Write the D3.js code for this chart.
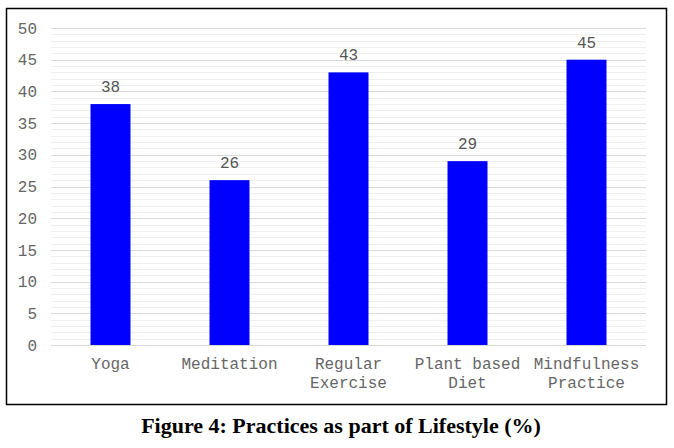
<!DOCTYPE html>
<html>
<head>
<meta charset="utf-8">
<script src="https://cdn.jsdelivr.net/npm/d3@7"></script>
<style>
  body { margin: 0; background: #fff; }
  .mono { font-family: "Liberation Mono", "Courier New", monospace; }
  .title { font-family: "Liberation Serif", "Times New Roman", serif; font-weight: bold; }
</style>
</head>
<body>
<svg id="chart" width="674" height="448"></svg>
<script>
const categories = ["Yoga", "Meditation", "Regular Exercise", "Plant based Diet", "Mindfulness Practice"];
const labelLines = [["Yoga"], ["Meditation"], ["Regular", "Exercise"], ["Plant based", "Diet"], ["Mindfulness", "Practice"]];
const values = [38, 26, 43, 29, 45];
const yTicks = [0, 5, 10, 15, 20, 25, 30, 35, 40, 45, 50];
const minorTicks = d3.range(0, 51, 1);
const title = "Figure 4: Practices as part of Lifestyle (%)";

const svg = d3.select("#chart");
const margin = { left: 51, right: 646, top: 28, bottom: 345 };

// outer frame
svg.append("rect")
  .attr("x", 6.5).attr("y", 8.5)
  .attr("width", 660).attr("height", 396)
  .attr("fill", "none").attr("stroke", "#000").attr("stroke-width", 1.5);

const x = d3.scaleBand()
  .domain(categories)
  .range([margin.left, margin.right])
  .paddingInner(0.664)
  .paddingOuter(0.332);

const y = d3.scaleLinear()
  .domain([0, 50])
  .range([margin.bottom, margin.top]);

// minor grid
svg.append("g").selectAll("line")
  .data(minorTicks.filter(d => d % 5 !== 0))
  .join("line")
  .attr("x1", margin.left).attr("x2", margin.right)
  .attr("y1", d => Math.round(y(d)) + 0.5).attr("y2", d => Math.round(y(d)) + 0.5)
  .attr("stroke", "#efefef").attr("stroke-width", 1);

// major grid
svg.append("g").selectAll("line")
  .data(yTicks)
  .join("line")
  .attr("x1", margin.left).attr("x2", margin.right)
  .attr("y1", d => Math.round(y(d)) + 0.5).attr("y2", d => Math.round(y(d)) + 0.5)
  .attr("stroke", "#d9d9d9").attr("stroke-width", 1);

// y tick labels
svg.append("g").selectAll("text")
  .data(yTicks)
  .join("text")
  .attr("class", "mono")
  .attr("x", 37)
  .attr("y", d => y(d))
  .attr("dy", "0.35em")
  .attr("text-anchor", "end")
  .attr("font-size", 16)
  .attr("fill", "#666")
  .text(d => d);

// bars
svg.append("g").selectAll("rect")
  .data(values)
  .join("rect")
  .attr("x", (d, i) => x(categories[i]))
  .attr("width", x.bandwidth())
  .attr("y", d => y(d))
  .attr("height", d => y(0) - y(d))
  .attr("fill", "#0000ff");

// data labels
svg.append("g").selectAll("text")
  .data(values)
  .join("text")
  .attr("class", "mono")
  .attr("x", (d, i) => x(categories[i]) + x.bandwidth() / 2)
  .attr("y", d => y(d) - 12)
  .attr("text-anchor", "middle")
  .attr("font-size", 16)
  .attr("fill", "#555")
  .text(d => d);

// category labels
const cat = svg.append("g").selectAll("text")
  .data(labelLines)
  .join("text")
  .attr("class", "mono")
  .attr("x", (d, i) => x(categories[i]) + x.bandwidth() / 2)
  .attr("y", 369)
  .attr("text-anchor", "middle")
  .attr("font-size", 16)
  .attr("fill", "#666");
cat.selectAll("tspan")
  .data((d, i) => d.map(t => ({ t, cx: x(categories[i]) + x.bandwidth() / 2 })))
  .join("tspan")
  .attr("x", d => d.cx)
  .attr("dy", (d, j) => j === 0 ? 0 : 19)
  .text(d => d.t);

// title
svg.append("text")
  .attr("class", "title")
  .attr("x", 341)
  .attr("y", 433)
  .attr("text-anchor", "middle")
  .attr("font-size", 22)
  .attr("fill", "#000")
  .text(title);
</script>
</body>
</html>
